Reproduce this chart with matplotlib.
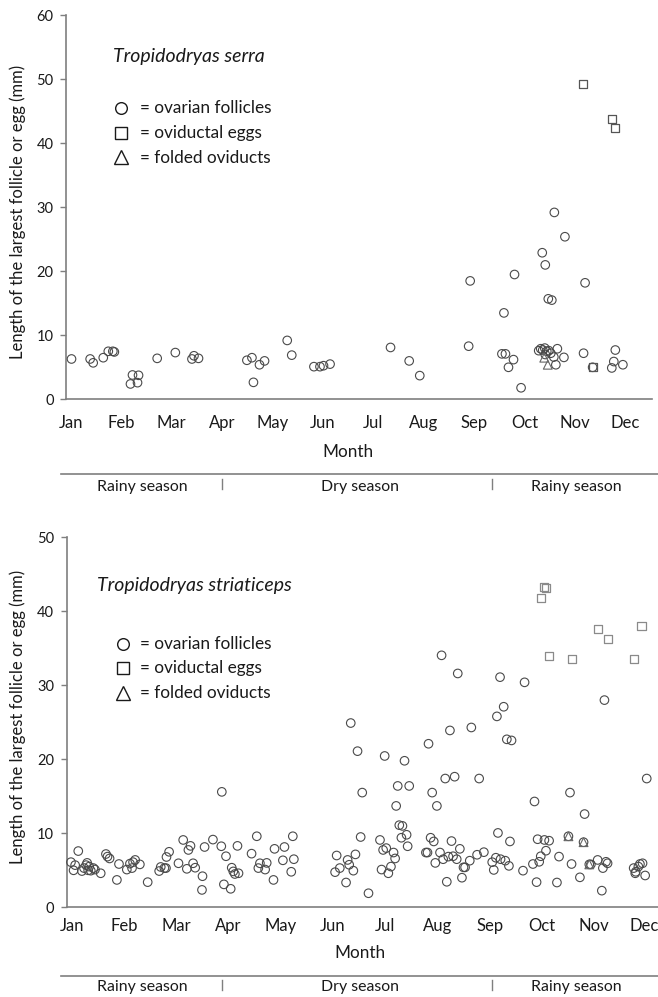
import matplotlib
matplotlib.use("Agg")
import matplotlib.pyplot as plt
from matplotlib.lines import Line2D
import matplotlib.transforms as mtransforms

plt.rcParams['font.family'] = ['Lato', 'DejaVu Sans']

# ---------------- data (month position: Jan = 1.0) ----------------
months = ["Jan", "Feb", "Mar", "Apr", "May", "Jun", "Jul", "Aug", "Sep", "Oct", "Nov", "Dec"]
seasons = ["Rainy season", "Dry season", "Rainy season"]

# Tropidodryas serra
serra_fol_month = [1.01, 1.38, 1.44, 1.64, 1.74, 1.83, 1.86, 2.18, 2.22, 2.32, 2.34, 2.71,
                   3.07, 3.40, 3.44, 3.53, 4.49, 4.59, 4.62, 4.74, 4.84, 5.29, 5.38, 5.82,
                   5.94, 6.01, 6.14, 7.34, 7.71, 7.92, 8.89, 8.92, 9.55, 9.62, 9.59, 9.68,
                   9.78, 9.80, 9.93, 10.28, 10.32, 10.36, 10.40, 10.44, 10.48, 10.52, 10.41,
                   10.58, 10.35, 10.41, 10.47, 10.54, 10.59, 10.62, 10.65, 10.78, 10.80,
                   11.17, 11.20, 11.35, 11.73, 11.77, 11.80, 11.95]
serra_fol_mm = [6.3, 6.3, 5.7, 6.5, 7.5, 7.5, 7.4, 2.4, 3.8, 2.6, 3.75, 6.4,
                7.3, 6.3, 6.8, 6.4, 6.1, 6.5, 2.65, 5.4, 6.0, 9.2, 6.9, 5.1,
                5.1, 5.25, 5.5, 8.1, 6.0, 3.7, 8.3, 18.5, 7.1, 7.1, 13.5, 5.0,
                6.2, 19.5, 1.8, 7.6, 7.9, 7.7, 8.0, 7.5, 7.6, 7.2, 7.0,
                6.6, 22.9, 21.0, 15.7, 15.5, 29.2, 5.4, 7.9, 6.55, 25.4,
                7.2, 18.2, 5.0, 4.9, 5.9, 7.7, 5.4]
serra_egg_month = [11.16, 11.73, 11.80, 11.35]
serra_egg_mm = [49.2, 43.75, 42.4, 5.0]
serra_fold_month = [10.39, 10.46]
serra_fold_mm = [6.5, 5.4]

# Tropidodryas striaticeps
stri_fol_month = [0.98, 1.03, 1.06, 1.12, 1.19, 1.23, 1.27, 1.29, 1.31, 1.33, 1.36, 1.41, 1.44,
                  1.55, 1.65, 1.68, 1.72, 1.86, 1.90, 2.05, 2.11, 2.15, 2.17, 2.21, 2.30, 2.45,
                  2.67, 2.70, 2.77, 2.80, 2.81, 2.86, 3.04, 3.13, 3.20, 3.23, 3.27, 3.32, 3.36,
                  3.49, 3.50, 3.54, 3.70, 3.86, 3.87, 3.91, 3.95, 4.04, 4.06, 4.09, 4.12, 4.17,
                  4.19, 4.44, 4.54, 4.57, 4.60, 4.70, 4.73, 4.86, 4.88, 5.04, 5.07, 5.20, 5.23,
                  5.25, 6.04, 6.07, 6.13, 6.25, 6.28, 6.31, 6.34, 6.39, 6.43, 6.47, 6.53, 6.56,
                  6.68, 6.90, 6.93, 6.96, 6.99, 7.02, 7.06, 7.11, 7.16, 7.19, 7.21, 7.24, 7.27,
                  7.31, 7.33, 7.37, 7.41, 7.43, 7.46, 7.78, 7.81, 7.83, 7.87, 7.90, 7.93, 7.96,
                  7.99, 8.05, 8.08, 8.11, 8.15, 8.18, 8.21, 8.24, 8.27, 8.30, 8.33, 8.37, 8.39,
                  8.43, 8.47, 8.50, 8.53, 8.62, 8.65, 8.76, 8.80, 8.89, 9.05, 9.08, 9.12, 9.14,
                  9.16, 9.20, 9.21, 9.27, 9.30, 9.33, 9.37, 9.39, 9.42, 9.64, 9.67, 9.83, 9.86,
                  9.90, 9.92, 9.95, 9.98, 10.05, 10.08, 10.14, 10.29, 10.33, 10.51, 10.54, 10.57,
                  10.73, 10.80, 10.82, 10.91, 10.94, 11.07, 11.15, 11.17, 11.20, 11.23, 11.26,
                  11.76, 11.79, 11.80, 11.85, 11.88, 11.93, 11.98, 12.01]
stri_fol_mm = [6.1, 5.0, 5.7, 7.6, 4.9, 5.3, 5.7, 6.0, 5.0, 5.5, 4.95, 5.3, 5.1,
               4.6, 7.2, 6.85, 6.6, 3.7, 5.85, 5.1, 5.9, 5.3, 6.1, 6.4, 5.8, 3.4,
               4.9, 5.45, 5.3, 5.3, 6.8, 7.5, 5.95, 9.1, 5.2, 7.75, 8.3, 5.95, 5.35,
               2.35, 4.2, 8.15, 9.15, 8.25, 15.6, 3.1, 6.9, 2.5, 5.35, 4.85, 4.5, 8.3,
               4.6, 7.25, 9.6, 5.3, 5.95, 5.1, 6.0, 3.7, 7.9, 6.35, 8.15, 4.8, 9.6,
               6.5, 4.75, 7.0, 5.3, 3.35, 6.4, 5.75, 24.9, 4.95, 7.15, 21.1, 9.5, 15.5,
               1.9, 9.1, 5.1, 7.75, 20.45, 8.0, 4.6, 5.5, 7.4, 6.6, 13.7, 16.4, 11.1,
               9.4, 11.0, 19.8, 9.8, 8.25, 16.4, 7.4, 7.4, 22.1, 9.4, 15.5, 8.9, 6.0,
               13.7, 7.4, 34.05, 6.5, 17.4, 3.45, 6.85, 23.9, 8.95, 6.9, 17.65, 6.5, 31.6,
               7.9, 4.0, 5.4, 5.4, 6.3, 24.3, 7.1, 17.4, 7.45, 6.1, 5.05, 6.7, 25.8,
               10.05, 31.1, 6.5, 27.1, 6.3, 22.7, 5.6, 8.9, 22.55, 4.95, 30.4, 5.85, 14.3,
               3.4, 9.2, 6.15, 6.9, 9.1, 7.65, 9.0, 3.35, 6.85, 9.6, 15.5, 5.85,
               4.05, 8.8, 12.6, 5.8, 5.8, 6.4, 2.25, 5.3, 28.0, 6.15, 5.95,
               5.3, 4.6, 4.8, 5.5, 5.85, 5.95, 4.3, 17.4]
stri_egg_month = [10.04, 10.08, 9.98, 11.07, 11.91, 11.26, 10.14, 10.57, 11.76]
stri_egg_mm = [43.3, 43.1, 41.8, 37.6, 38.05, 36.2, 33.9, 33.5, 33.5]
stri_fold_month = [10.51, 10.80, 10.91]
stri_fold_mm = [9.6, 8.8, 5.8]

legend_labels = ["= ovarian follicles", "= oviductal eggs", "= folded oviducts"]
ylabel = "Length of the largest follicle or egg (mm)"

# ---------------- figure ----------------
W, H = 658, 997
fig = plt.figure(figsize=(W / 100, H / 100), dpi=100)


def fx(px):
    return px / W


def fy(py):
    return 1 - py / H


AX = '#7f7f7f'
EDGE = '#4a4a4a'


def setup_axes(ax, ymax, pad):
    for s in ['top', 'right']:
        ax.spines[s].set_visible(False)
    for s in ['left', 'bottom']:
        ax.spines[s].set_color(AX)
        ax.spines[s].set_linewidth(1.2)
    ax.set_ylim(0, ymax)
    ax.set_yticks(range(0, ymax + 1, 10))
    ax.tick_params(axis='y', length=4, width=1, color=AX, labelsize=10.5, pad=5,
                   labelcolor='#1a1a1a')
    ax.set_xticks(range(1, 13))
    ax.set_xticklabels(months)
    ax.tick_params(axis='x', length=0, labelsize=12, pad=pad, labelcolor='#1a1a1a')
    ax.patch.set_alpha(0)


def draw(ax, fm, fv, em, ev, tm, tv, egg_color):
    ax.scatter(fm, fv, s=38, facecolors='none', edgecolors=EDGE, linewidths=0.8,
               marker='o', clip_on=False, zorder=3)
    ax.scatter(em, ev, s=34, facecolors='none', edgecolors=egg_color, linewidths=0.9,
               marker='s', clip_on=False, zorder=3)
    ax.scatter(tm, tv, s=40, facecolors='none', edgecolors='#666666', linewidths=0.8,
               marker='^', clip_on=False, zorder=3)


def legend(title, tx, tbase, mx, rows):
    fig.text(fx(tx), fy(tbase), title, style='italic', fontsize=14, va='baseline',
             ha='left', color='#1a1a1a')
    mks = ['o', 's', '^']
    for (my, base), mk, lab in zip(rows, mks, legend_labels):
        fig.add_artist(Line2D([fx(mx)], [fy(my)], marker=mk, markersize=8.4 if mk != '^' else 9.5,
                              mfc='none', mec='#1a1a1a', mew=1.0, linestyle='none',
                              transform=fig.transFigure))
        fig.text(fx(140), fy(base), lab, fontsize=12.4, va='baseline', ha='left',
                 color='#1a1a1a')


def seasons_bar(line_y, tick_top, tick_bot, text_y):
    fig.add_artist(Line2D([fx(61), fx(658)], [fy(line_y), fy(line_y)], color=AX, lw=1.2,
                          transform=fig.transFigure))
    for xx in (222, 492):
        fig.add_artist(Line2D([fx(xx), fx(xx)], [fy(tick_top), fy(tick_bot)], color=AX,
                              lw=1.0, transform=fig.transFigure))
    for xx, lab in zip((142, 360, 576), seasons):
        fig.text(fx(xx), fy(text_y), lab, fontsize=11.4, ha='center', va='center',
                 color='#1a1a1a')


# Top panel
ax1 = fig.add_axes([fx(66), fy(399.3), fx(652) - fx(66), fy(15.3) - fy(399.3)])
ax1.set_xlim(1 + (66 - 71) / 50.4, 1 + (652 - 71) / 50.4)
setup_axes(ax1, 60, 11)
draw(ax1, serra_fol_month, serra_fol_mm, serra_egg_month, serra_egg_mm,
     serra_fold_month, serra_fold_mm, '#555555')
fig.text(fx(348), fy(452), "Month", fontsize=12.3, ha='center', va='center', color='#1a1a1a')
fig.text(fx(18), fy(212), ylabel, fontsize=12, rotation=90, ha='center', va='center',
         color='#1a1a1a')
legend("Tropidodryas serra", 113, 61.7, 120.8,
       [(108.3, 113.3), (133.3, 137.7), (156.7, 162.7)])
seasons_bar(474.5, 479, 489, 487.5)

# Bottom panel
ax2 = fig.add_axes([fx(66.7), fy(907.3), fx(658) - fx(66.7), fy(537.3) - fy(907.3)])
ax2.set_xlim(1 + (66.7 - 72) / 52.2, 1 + (658 - 72) / 52.2)
setup_axes(ax2, 50, 8)
draw(ax2, stri_fol_month, stri_fol_mm, stri_egg_month, stri_egg_mm,
     stri_fold_month, stri_fold_mm, '#8a8a8a')
# keep the last month label just inside the figure edge
last = ax2.xaxis.get_major_ticks()[-1].label1
last.set_horizontalalignment('right')
last.set_transform(last.get_transform() +
                   mtransforms.ScaledTranslation(13 / 100, 0, fig.dpi_scale_trans))
fig.text(fx(360), fy(953), "Month", fontsize=12.3, ha='center', va='center', color='#1a1a1a')
fig.text(fx(18), fy(717), ylabel, fontsize=12, rotation=90, ha='center', va='center',
         color='#1a1a1a')
legend("Tropidodryas striaticeps", 97, 590.7, 123.3,
       [(644, 649.3), (668.3, 673.3), (692.7, 697.7)])
seasons_bar(976, 980, 990, 987)

fig.savefig("out.png", dpi=100)
